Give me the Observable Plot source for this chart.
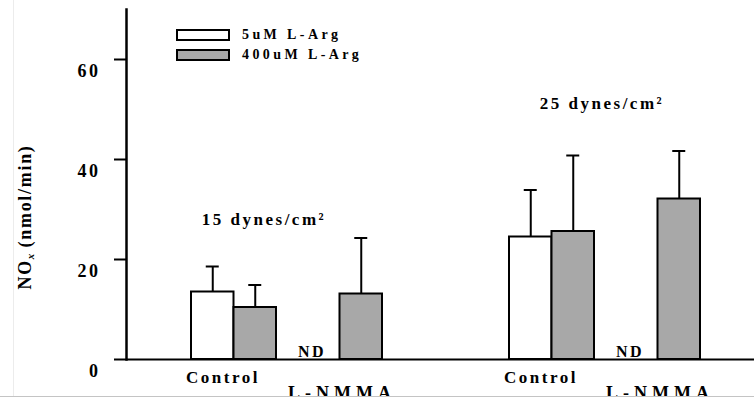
<!DOCTYPE html>
<html><head><meta charset="utf-8">
<script src="https://cdn.jsdelivr.net/npm/d3@7"></script>
<script src="https://cdn.jsdelivr.net/npm/@observablehq/plot@0.6"></script>
<style>
body{margin:0;background:#fff}
#wrap{position:relative;width:754px;height:401px;overflow:hidden;background:#fff;font-family:'Liberation Serif',Tinos,'Times New Roman',serif;font-weight:bold}
#ylab{position:absolute;left:25px;top:217px;transform:translate(-50%,-50%) rotate(-90deg);font-size:18px;white-space:nowrap;letter-spacing:1.7px}
#ylab sub{font-size:11px;vertical-align:-3px;letter-spacing:0;font-style:italic}
.leg{position:absolute;left:176px;width:50px;height:8px;border:2px solid #000}
.legt{position:absolute;left:242px;font-size:14px;letter-spacing:3.4px;line-height:14px;white-space:nowrap}
#crop{position:absolute;left:0;top:396px;width:754px;height:5px;background:#fff;border-top:1px solid #c4c4c4}
#vline{position:absolute;left:13px;top:0;width:1px;height:396px;background:#ececec}
svg text{font-family:'Liberation Serif',Tinos,'Times New Roman',serif !important;font-weight:bold}
</style></head><body><div id="wrap"></div>
<script>
// ---- data ----
const shearLevels = ["15 dynes/cm²", "25 dynes/cm²"];
const shearKeys = ["15", "25"];
const conditions = ["Control", "L-NMMA"];
const seriesNames = ["5uM L-Arg", "400uM L-Arg"];
const mean5 = [13.5, null, 24.5, null];      // null = ND
const err5 = [5.1, null, 9.4, null];
const mean400 = [10.4, 13.1, 25.6, 32.1];
const err400 = [4.5, 11.2, 15.2, 9.6];
const yTicks = [0, 20, 40, 60];
const yDomain = [0, 70];
const shearLabelY = [28, 51.2];
const ndText = "ND";
const yTitle = "NO<sub>x</sub> (nmol/min)";

// ---- build tables ----
const slots = [];
const rows = [];
shearKeys.forEach((s, gi) => {
  conditions.forEach((c, ci) => {
    const key = s + "|" + c;
    slots.push(key);
    const i = gi * 2 + ci;
    rows.push({key, shear: shearLevels[gi], condition: c, mean5: mean5[i], err5: err5[i], mean400: mean400[i], err400: err400[i]});
  });
  if (gi === 0) slots.push("gap");
});
const shearRows = shearKeys.map((s, gi) => ({key: s + "|Control", text: shearLevels[gi], y: shearLabelY[gi]}));

const W = 754, H = 401, ML = 126, MR = 0, MT = 9, MB = 42;
const PI = 0.2, PO = 0.5553, ALIGN = 0.542;
const step = (W - ML - MR) / (slots.length - PI + 2 * PO);
const bw = step * (1 - PI);
const grey = "#a8a8a8";
const capHalf = 6.5;
const shearDx = [30, 50];
const FONT = "'Liberation Serif',Tinos,'Times New Roman',serif";

const r5 = rows.filter(d => d.mean5 != null);
const rND = rows.filter(d => d.mean5 == null);

const plot = Plot.plot({
  width: W, height: H,
  marginLeft: ML, marginRight: MR, marginTop: MT, marginBottom: MB,
  style: {fontFamily: FONT, fontWeight: "bold", fontSize: "17px", letterSpacing: "2.5px", color: "#000", background: "transparent"},
  x: {type: "band", domain: slots, paddingInner: PI, paddingOuter: PO, align: ALIGN, axis: null},
  y: {domain: yDomain, axis: null},
  marks: [
    Plot.frame({anchor: "left", strokeWidth: 2.5}),
    Plot.axisY({ticks: yTicks, tickSize: 12, strokeWidth: 2, tickFormat: () => "", label: null}),
    Plot.axisY({ticks: yTicks, tickSize: 0, tickPadding: 26, dy: 12, fontSize: 18, label: null, tickFormat: d => String(d)}),
    Plot.ruleY([0], {strokeWidth: 2}),
    Plot.barY(r5, {x: "key", y: "mean5", fill: "white", stroke: "black", strokeWidth: 2, insetRight: bw / 2}),
    Plot.barY(rows, {x: "key", y: "mean400", fill: grey, stroke: "black", strokeWidth: 2, insetLeft: bw / 2}),
    Plot.ruleX(r5, {x: "key", y1: "mean5", y2: d => d.mean5 + d.err5, dx: -bw / 4, strokeWidth: 2}),
    Plot.ruleX(rows, {x: "key", y1: "mean400", y2: d => d.mean400 + d.err400, dx: bw / 4, strokeWidth: 2}),
    Plot.tickY(r5, {x: "key", y: d => d.mean5 + d.err5, insetLeft: bw / 4 - capHalf, insetRight: 3 * bw / 4 - capHalf, strokeWidth: 2}),
    Plot.tickY(rows, {x: "key", y: d => d.mean400 + d.err400, insetLeft: 3 * bw / 4 - capHalf, insetRight: bw / 4 - capHalf, strokeWidth: 2}),
    Plot.text(rND, {x: "key", y: 0, text: () => ndText, dx: -28, dy: -3, lineAnchor: "bottom", fontSize: 16, fill: "black"}),
    Plot.text(rows.filter(d => d.condition === "Control"), {x: "key", y: 0, text: "condition", dx: -11, dy: 18, lineAnchor: "middle", fontSize: 17, fill: "black"}),
    Plot.text(rows.filter(d => d.condition === "L-NMMA"), {x: "key", y: 0, text: "condition", dx: 2, dy: 39, lineAnchor: "bottom", fontSize: 18, fill: "black"}),
    ...shearRows.map((r, i) => Plot.text([r], {x: "key", y: "y", text: "text", dx: shearDx[i], fontSize: 17, fill: "black"}))
  ]
});
plot.querySelectorAll("text").forEach(t => {
  if (t.textContent === "L-NMMA") t.setAttribute("letter-spacing", "5px");
});
const wrap = document.getElementById("wrap");
wrap.appendChild(plot);
wrap.insertAdjacentHTML("beforeend",
  `<div id="vline"></div>
   <div id="ylab">${yTitle}</div>
   <div class="leg" style="top:29px;background:#fff"></div>
   <div class="legt" style="top:28px">${seriesNames[0]}</div>
   <div class="leg" style="top:49px;background:${grey}"></div>
   <div class="legt" style="top:48px">${seriesNames[1]}</div>
   <div id="crop"></div>`);
</script></body></html>
